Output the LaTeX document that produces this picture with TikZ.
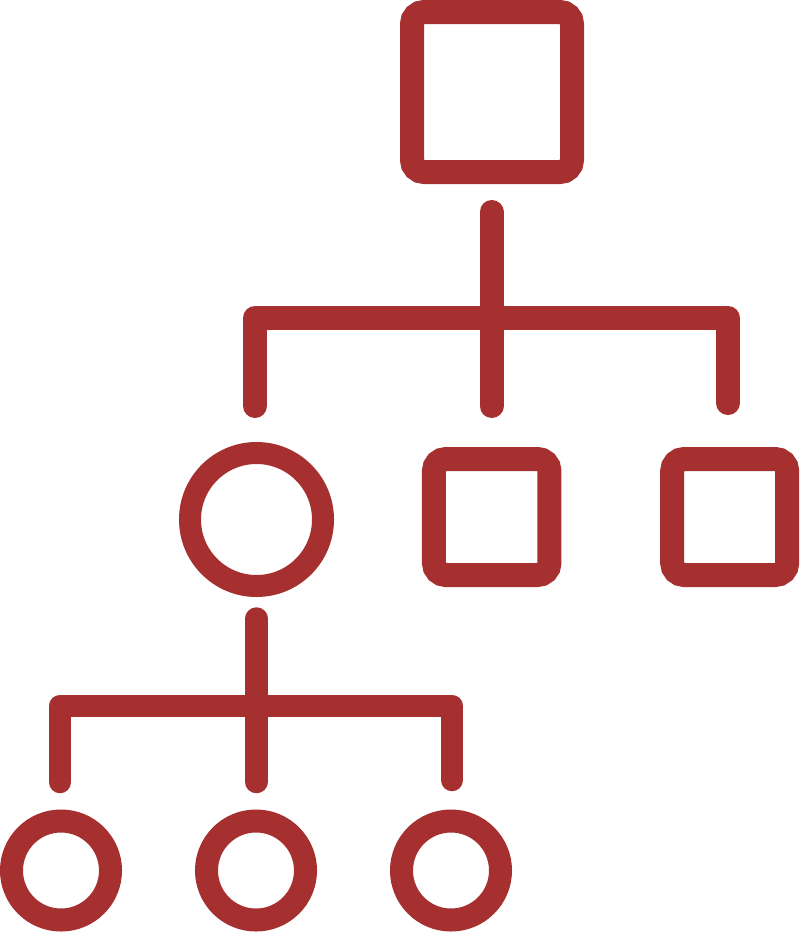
\documentclass[tikz,border=0pt]{standalone}
\definecolor{brick}{RGB}{166,48,48}
\begin{document}
\begin{tikzpicture}[x=1pt,y=-1pt,
  sqbox/.style={draw=brick,line width=24pt,rectangle,rounded corners=12pt,inner sep=0pt},
  ringnode/.style={draw=brick,circle,inner sep=0pt},
  bar/.style={draw=brick,line cap=round,line join=round}]
\useasboundingbox (0,0) rectangle (800,932);
% nodes
\node[sqbox,minimum width=160pt,minimum height=160pt] (top) at (492,92) {};
\node[ringnode,line width=22pt,minimum size=133pt] (c1) at (256.5,519.5) {};
\node[sqbox,minimum width=115.5pt,minimum height=116pt] (s2) at (491.7,517) {};
\node[sqbox,minimum width=115pt,minimum height=116pt] (s3) at (729.7,517) {};
\node[ringnode,line width=23pt,minimum size=99pt] (l1) at (61,870.5) {};
\node[ringnode,line width=23pt,minimum size=99pt] (l2) at (256,870.5) {};
\node[ringnode,line width=23pt,minimum size=99pt] (l3) at (451,870.5) {};
% connector points, level 1
\coordinate (t0) at (491.5,212);
\coordinate (tj) at (491.5,318);
\coordinate (tm) at (491.5,406);
\coordinate (tl) at (255,406);
\coordinate (tr) at (728,403);
\draw[bar,line width=24pt] (t0) -- (tm);
\draw[bar,line width=24pt] (tl) |- (tj) -| (tr);
% connector points, level 2
\coordinate (u0) at (256.5,618.5);
\coordinate (uj) at (256.5,706);
\coordinate (um) at (256.5,782);
\coordinate (ul) at (60,782);
\coordinate (ur) at (452,780);
\draw[bar,line width=22.5pt] (u0) -- (um);
\draw[bar,line width=22.5pt] (ul) |- (uj) -| (ur);
\end{tikzpicture}
\end{document}
